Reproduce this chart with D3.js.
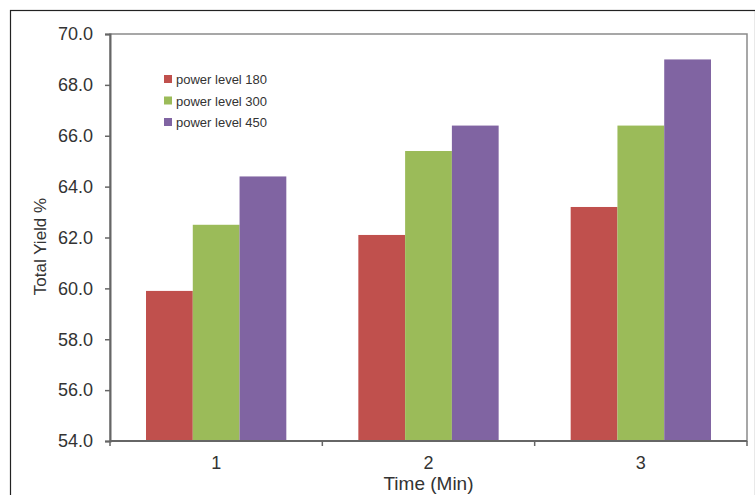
<!DOCTYPE html>
<html>
<head>
<meta charset="utf-8">
<script src="https://cdn.jsdelivr.net/npm/d3@7"></script>
<style>
  html, body { margin: 0; padding: 0; background: #fff; }
  svg { display: block; }
  text { font-family: "Liberation Sans", Arial, sans-serif; fill: #333; }
</style>
</head>
<body>
<svg id="chart" width="755" height="495"></svg>
<script>
// Total yield by extraction time for three microwave power levels
const times = ["1", "2", "3"];
const seriesNames = ["power level 180", "power level 300", "power level 450"];
const seriesColors = ["#C0504D", "#9BBB59", "#8064A2"];
const yield180 = [59.9, 62.1, 63.2];
const yield300 = [62.5, 65.4, 66.4];
const yield450 = [64.4, 66.4, 69.0];
const yTicks = [54, 56, 58, 60, 62, 64, 66, 68, 70];

const seriesValues = [yield180, yield300, yield450];

const svg = d3.select("#chart");
const W = 755, H = 495;
const m = { left: 110, right: 8, top: 34, bottom: 54 };
const plotW = W - m.left - m.right;
const plotH = H - m.top - m.bottom;

// outer frame
svg.append("rect")
  .attr("x", 10.5).attr("y", 10.5)
  .attr("width", W - 10).attr("height", H)
  .attr("fill", "none").attr("stroke", "#222").attr("stroke-width", 1.2);

const g = svg.append("g").attr("transform", `translate(${m.left},${m.top})`);

const x0 = d3.scaleBand().domain(times).range([0, plotW]).paddingInner(0).paddingOuter(0);
const x1 = d3.scaleBand().domain(d3.range(seriesNames.length))
  .range([0, x0.bandwidth()]).paddingInner(0).paddingOuter(0.77);
const y = d3.scaleLinear().domain([54, 70]).range([plotH, 0]);

// plot frame
g.append("rect")
  .attr("x", 0).attr("y", 0).attr("width", plotW).attr("height", plotH)
  .attr("fill", "none").attr("stroke", "#8a8a8a").attr("stroke-width", 1.5);

// bars
times.forEach((t, i) => {
  const grp = g.append("g").attr("transform", `translate(${x0(t)},0)`);
  grp.selectAll("rect")
    .data(seriesValues.map((vals, s) => ({ s, v: vals[i] })))
    .join("rect")
    .attr("x", d => x1(d.s))
    .attr("width", x1.bandwidth())
    .attr("y", d => y(d.v))
    .attr("height", d => y(54) - y(d.v))
    .attr("fill", d => seriesColors[d.s]);
});

// y axis
const yAxis = g.append("g")
  .call(d3.axisLeft(y).tickValues(yTicks).tickFormat(d3.format(".1f")).tickSize(5).tickPadding(12));
yAxis.select(".domain").attr("stroke", "#666").attr("stroke-width", 2);
yAxis.selectAll(".tick line").attr("stroke", "#666").attr("stroke-width", 1.5);
yAxis.selectAll(".tick text").attr("font-size", 18).style("fill", "#333");

// x axis: category boundary ticks, labels centred in each band
const xAxisG = g.append("g").attr("transform", `translate(0,${plotH})`);
xAxisG.append("line").attr("x1", 0).attr("x2", plotW)
  .attr("stroke", "#666").attr("stroke-width", 2);
xAxisG.selectAll("line.tk")
  .data(d3.range(times.length + 1))
  .join("line").attr("class", "tk")
  .attr("x1", i => i * x0.step()).attr("x2", i => i * x0.step())
  .attr("y1", 0).attr("y2", 5)
  .attr("stroke", "#666").attr("stroke-width", 1.5);
xAxisG.selectAll("text")
  .data(times)
  .join("text")
  .attr("x", d => x0(d) + x0.bandwidth() / 2)
  .attr("y", 28)
  .attr("text-anchor", "middle")
  .attr("font-size", 18)
  .text(d => d);

// axis titles
svg.append("text")
  .attr("x", m.left + plotW / 2).attr("y", 490)
  .attr("text-anchor", "middle").attr("font-size", 19)
  .text("Time (Min)");
svg.append("text")
  .attr("transform", `translate(46,${m.top + plotH / 2 + 9}) rotate(-90)`)
  .attr("text-anchor", "middle").attr("font-size", 17)
  .text("Total Yield %");

// legend
const legend = svg.append("g").attr("transform", "translate(164,79)");
seriesNames.forEach((name, i) => {
  const row = legend.append("g").attr("transform", `translate(0,${i * 21.5})`);
  row.append("rect").attr("x", 0).attr("y", -4).attr("width", 8).attr("height", 8)
    .attr("fill", seriesColors[i]);
  row.append("text").attr("x", 12).attr("y", 5).attr("font-size", 13).text(name);
});
</script>
</body>
</html>
